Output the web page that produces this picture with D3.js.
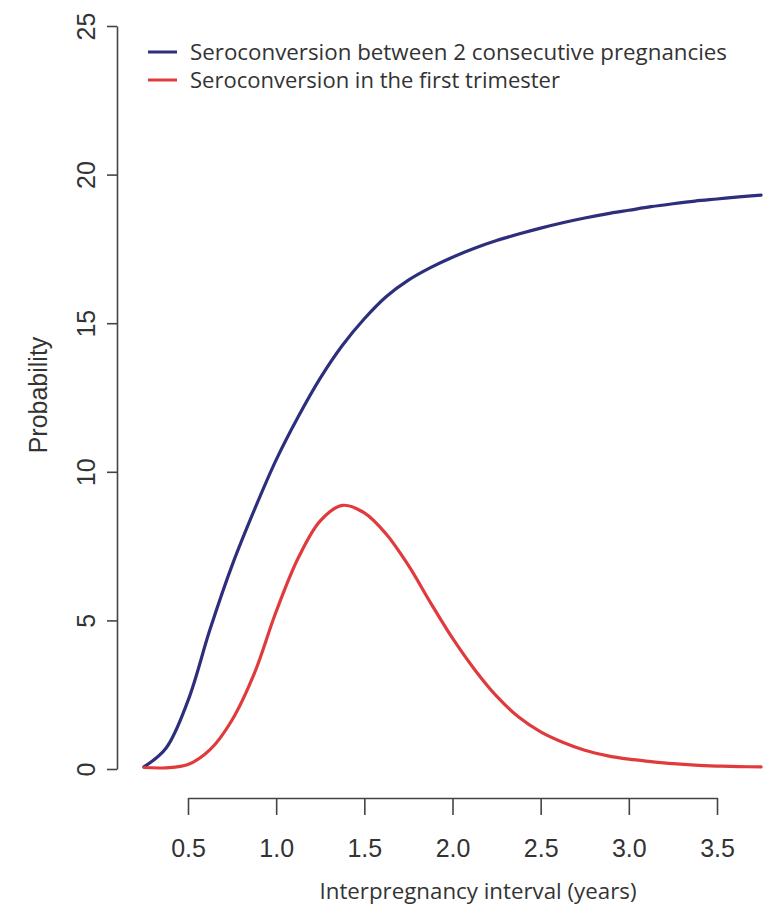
<!DOCTYPE html>
<html>
<head>
<meta charset="utf-8">
<script src="https://cdn.jsdelivr.net/npm/d3@7"></script>
<style>
  body { margin: 0; background: #fff; }
  text { fill: #333; }
</style>
</head>
<body>
<div id="chart"></div>
<script>
// interval in years
var interval = [0.25, 0.375, 0.5, 0.625, 0.75, 0.875, 1.0, 1.125, 1.25, 1.375, 1.5, 1.625, 1.75, 1.875,
  2.0, 2.125, 2.25, 2.375, 2.5, 2.625, 2.75, 2.875, 3.0, 3.125, 3.25, 3.375, 3.5, 3.625, 3.75];
// seroconversion between 2 consecutive pregnancies
var between = [0.07, 0.7, 2.3, 4.7, 6.85, 8.7, 10.4, 11.85, 13.15, 14.25, 15.15, 15.9, 16.45, 16.87,
  17.22, 17.52, 17.78, 18.0, 18.2, 18.38, 18.54, 18.68, 18.8, 18.92, 19.02, 19.11, 19.18, 19.25, 19.31];
// seroconversion in the first trimester
var firstTrim = [0.05, 0.04, 0.15, 0.65, 1.65, 3.2, 5.3, 7.1, 8.35, 8.87, 8.62, 7.9, 6.85, 5.6,
  4.4, 3.35, 2.45, 1.75, 1.25, 0.9, 0.63, 0.45, 0.33, 0.25, 0.18, 0.13, 0.1, 0.08, 0.07];
var xTicks = [0.5, 1.0, 1.5, 2.0, 2.5, 3.0, 3.5];
var yTicks = [0, 5, 10, 15, 20, 25];
var seriesNames = ['Seroconversion between 2 consecutive pregnancies', 'Seroconversion in the first trimester'];
var seriesColors = ['#2d2e7c', '#e03a3c'];

var chart_width = 771;
var chart_height = 907;
var svg = d3.select('#chart').append('svg')
  .attr('width', chart_width)
  .attr('height', chart_height);

var x_scale = d3.scaleLinear().domain([0.5, 3.5]).range([188, 717]);
var y_scale = d3.scaleLinear().domain([0, 25]).range([769, 26]);
var axisColor = '#444';

// y axis (R style, ticks to the left)
var yAxis = svg.append('g')
  .attr('transform', 'translate(117,0)')
  .call(d3.axisLeft(y_scale).tickValues(yTicks).tickSize(10).tickSizeOuter(0).tickFormat(d3.format('d')));
yAxis.select('.domain').attr('stroke', axisColor).attr('stroke-width', 1.6);
yAxis.selectAll('.tick line').attr('stroke', axisColor).attr('stroke-width', 1.6);
yAxis.selectAll('.tick text')
  .attr('x', 0).attr('y', 0).attr('dy', null)
  .attr('transform', 'translate(-22,0) rotate(-90)')
  .attr('text-anchor', 'middle')
  .style('font-family', 'Liberation Sans, Arial, sans-serif')
  .style('font-size', '25px')
  .attr('fill', '#333');

// x axis
var xAxis = svg.append('g')
  .attr('transform', 'translate(0,798)')
  .call(d3.axisBottom(x_scale).tickValues(xTicks).tickSize(17).tickSizeOuter(0).tickFormat(d3.format('.1f')));
xAxis.select('.domain').attr('stroke', axisColor).attr('stroke-width', 1.6);
xAxis.selectAll('.tick line').attr('stroke', axisColor).attr('stroke-width', 1.6);
xAxis.selectAll('.tick text')
  .attr('y', 59).attr('dy', null)
  .style('font-family', 'Liberation Sans, Arial, sans-serif')
  .style('font-size', '25px')
  .attr('fill', '#333');

// axis titles
svg.append('text')
  .attr('transform', 'translate(47,395) rotate(-90)')
  .attr('text-anchor', 'middle')
  .style('font-family', 'Liberation Sans, Arial, sans-serif')
  .style('font-size', '25px')
  .text('Probability');

svg.append('text')
  .attr('x', 478).attr('y', 899)
  .attr('text-anchor', 'middle')
  .attr('textLength', 317).attr('lengthAdjust', 'spacingAndGlyphs')
  .style('font-family', 'Open Sans, sans-serif')
  .style('font-size', '21px')
  .text('Interpregnancy interval (years)');

// curves
var line = d3.line()
  .x(function(d) { return x_scale(d[0]); })
  .y(function(d) { return y_scale(d[1]); })
  .curve(d3.curveCatmullRom.alpha(0.5));

[between, firstTrim].forEach(function(vals, k) {
  svg.append('path')
    .datum(interval.map(function(x, i) { return [x, vals[i]]; }))
    .attr('d', line)
    .attr('fill', 'none')
    .attr('stroke', seriesColors[k])
    .attr('stroke-width', 3.2)
    .attr('stroke-linejoin', 'round')
    .attr('stroke-linecap', 'round');
});

// legend
var legendLens = [537, 370];
var legend = svg.selectAll('.legend')
  .data(seriesNames)
  .enter().append('g')
  .attr('class', 'legend')
  .attr('transform', function(d, i) { return 'translate(0,' + (52 + i * 28) + ')'; });
legend.append('line')
  .attr('x1', 148).attr('x2', 177)
  .attr('stroke', function(d, i) { return seriesColors[i]; })
  .attr('stroke-width', 3);
legend.append('text')
  .attr('x', 190).attr('y', 8)
  .attr('textLength', function(d, i) { return legendLens[i]; })
  .attr('lengthAdjust', 'spacingAndGlyphs')
  .style('font-family', 'Open Sans, sans-serif')
  .style('font-size', '21px')
  .text(function(d) { return d; });
</script>
</body>
</html>
